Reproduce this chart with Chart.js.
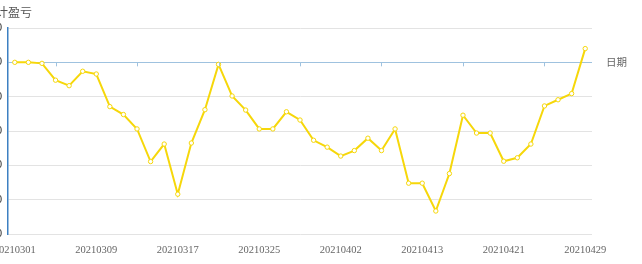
<!DOCTYPE html>
<html>
<head>
<meta charset="utf-8">
<script src="https://cdn.jsdelivr.net/npm/chart.js@4/dist/chart.umd.min.js"></script>
<style>
  html, body { margin: 0; padding: 0; background: #fff; overflow: hidden; }
  #wrap { position: absolute; left: -60px; top: 0; width: 702px; height: 264px; }
</style>
</head>
<body>
<div id="wrap"><canvas id="pnlChart"></canvas></div>
<script>
// trading days, march - april 2021
const dates = ['20210301', '20210302', '20210303', '20210304', '20210305', '20210308', '20210309', '20210310',
  '20210311', '20210312', '20210315', '20210316', '20210317', '20210318', '20210319', '20210322', '20210323',
  '20210324', '20210325', '20210326', '20210329', '20210330', '20210331', '20210401', '20210402', '20210406',
  '20210407', '20210408', '20210409', '20210412', '20210413', '20210414', '20210415', '20210416', '20210419',
  '20210420', '20210421', '20210422', '20210423', '20210426', '20210427', '20210428', '20210429'];

// cumulative profit / loss
const pnl = [0, 0, -30, -520, -680, -260, -340, -1290, -1520, -1940, -2890, -2380, -3840, -2350, -1380, -60,
  -980, -1390, -1940, -1940, -1440, -1680, -2270, -2470, -2730, -2570, -2210, -2570, -1940, -3520, -3520,
  -4330, -3240, -1540, -2060, -2060, -2880, -2780, -2380, -1270, -1090, -910, 400];

const yMin = -5000;
const yMax = 1000;
const yStep = 1000;
const labelEvery = 6;

const yTitle = '累计盈亏';
const xTitle = '日期';

// axis names + small ticks on the zero line
const axisExtras = {
  id: 'axisExtras',
  afterDraw(chart) {
    const ctx = chart.ctx;
    const area = chart.chartArea;
    const xs = chart.scales.x;
    const zeroY = chart.scales.y.getPixelForValue(0);
    ctx.save();
    ctx.strokeStyle = '#9fc2df';
    ctx.lineWidth = 1;
    for (let i = labelEvery / 2; i < dates.length; i += labelEvery) {
      const x = Math.round(xs.getPixelForValue(i)) + 0.5;
      ctx.beginPath();
      ctx.moveTo(x, zeroY);
      ctx.lineTo(x, zeroY + 4);
      ctx.stroke();
    }
    ctx.fillStyle = '#555';
    ctx.font = '12px "Noto Sans CJK SC"';
    ctx.textAlign = 'center';
    ctx.textBaseline = 'middle';
    ctx.fillText(yTitle, area.left, 12);
    ctx.fillStyle = '#666';
    ctx.font = '10.5px "Noto Sans CJK SC"';
    ctx.textAlign = 'left';
    ctx.fillText(xTitle, area.right + 14, zeroY);
    ctx.restore();
  }
};

new Chart('pnlChart', {
  type: 'line',
  data: {
    labels: dates,
    datasets: [{
      data: pnl,
      borderColor: '#f6d70a',
      borderWidth: 2,
      backgroundColor: '#fff',
      pointRadius: 2.2,
      pointBorderWidth: 1,
      pointBorderColor: '#f6d70a',
      pointBackgroundColor: '#fff',
      tension: 0
    }]
  },
  options: {
    responsive: true,
    maintainAspectRatio: false,
    animation: false,
    layout: { padding: { top: 28, right: 50, bottom: 0, left: 0 } },
    plugins: {
      legend: { display: false },
      tooltip: { enabled: false }
    },
    scales: {
      x: {
        type: 'category',
        offset: true,
        afterFit: (s) => { s.height = 30; },
        grid: { display: false, drawTicks: false },
        border: { display: false },
        ticks: {
          autoSkip: false,
          maxRotation: 0,
          padding: 10,
          color: '#666',
          font: { family: 'Liberation Serif', size: 10.5 },
          callback: function (val, i) { return i % labelEvery === 0 ? dates[i] : ''; }
        }
      },
      y: {
        min: yMin,
        max: yMax,
        afterFit: (s) => { s.width = 68; },
        grid: {
          drawTicks: false,
          color: (c) => c.tick && c.tick.value === 0 ? '#9fc2df' : '#e3e3e3',
          lineWidth: 1
        },
        border: { display: true, color: '#3d80c2', width: 1.5 },
        ticks: {
          stepSize: yStep,
          padding: 6,
          color: '#333',
          font: { family: 'Liberation Sans', size: 11 }
        }
      }
    }
  },
  plugins: [axisExtras]
});
</script>
</body>
</html>
